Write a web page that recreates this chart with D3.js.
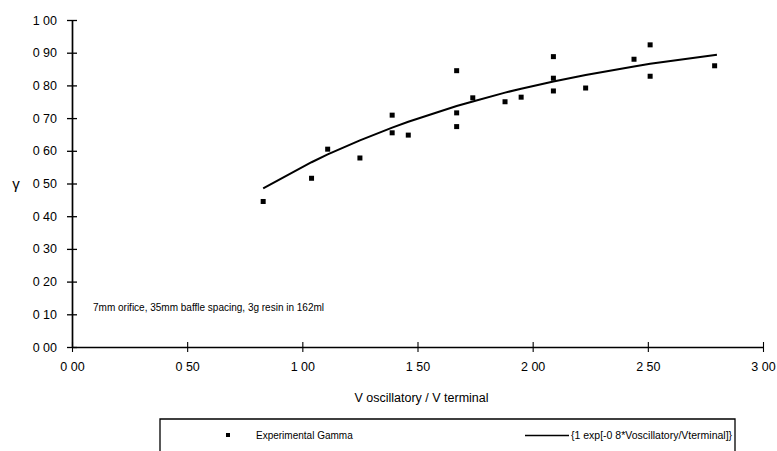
<!DOCTYPE html>
<html>
<head>
<meta charset="utf-8">
<script src="https://cdn.jsdelivr.net/npm/d3@7"></script>
<style>
  html, body { margin: 0; padding: 0; background: #fff; }
  svg { display: block; }
  text { font-family: "Liberation Sans", Arial, Helvetica, sans-serif; fill: #000; }
</style>
</head>
<body>
<svg id="chart" width="777" height="451"></svg>
<script>
const expX = [0.83, 1.04, 1.11, 1.25, 1.39, 1.39, 1.46, 1.67, 1.67, 1.67, 1.74, 1.88, 1.95, 2.09, 2.09, 2.09, 2.23, 2.44, 2.51, 2.51, 2.79];
const expY = [0.445, 0.516, 0.605, 0.578, 0.709, 0.655, 0.648, 0.845, 0.716, 0.674, 0.762, 0.750, 0.764, 0.888, 0.822, 0.783, 0.792, 0.880, 0.924, 0.828, 0.860];
// Model curve {1 - exp(-0.8*Vosc/Vterm)} as drawn (points at data x positions)
const fitX = [0.83, 1.04, 1.11, 1.25, 1.39, 1.46, 1.67, 1.74, 1.88, 1.95, 2.09, 2.23, 2.44, 2.51, 2.80];
const fitY = [0.485, 0.565, 0.589, 0.632, 0.671, 0.689, 0.737, 0.751, 0.778, 0.790, 0.812, 0.832, 0.858, 0.866, 0.894];
// Tick values and labels
const xTicks = [0, 0.5, 1, 1.5, 2, 2.5, 3];
const xTickLabels = ["0 00", "0 50", "1 00", "1 50", "2 00", "2 50", "3 00"];
const yTicks = [0, 0.1, 0.2, 0.3, 0.4, 0.5, 0.6, 0.7, 0.8, 0.9, 1.0];
const yTickLabels = ["0 00", "0 10", "0 20", "0 30", "0 40", "0 50", "0 60", "0 70", "0 80", "0 90", "1 00"];
const xTitle = "V oscillatory / V terminal";
const yTitle = "γ";
const note = "7mm orifice, 35mm baffle spacing, 3g resin in 162ml";
const legendLabels = ["Experimental Gamma", "{1 exp[-0 8*Voscillatory/Vterminal]}"];

const svg = d3.select("#chart");
const x = d3.scaleLinear().domain([0, 3]).range([72, 763]);
const y = d3.scaleLinear().domain([0, 1]).range([347, 20]);

// Y axis
const yAxis = d3.axisLeft(y).tickValues(yTicks)
  .tickFormat((d, i) => yTickLabels[i]).tickSize(0).tickPadding(15);
const gy = svg.append("g").attr("transform", `translate(${x(0)},0)`).call(yAxis);
gy.select(".domain").attr("stroke", "#000").attr("stroke-width", 1.7);
gy.selectAll("text").style("font-size", "12.5px").attr("font-family", null);
gy.selectAll(".tick").append("line").attr("x1", -5).attr("x2", 5)
  .attr("stroke", "#000").attr("stroke-width", 1.3);

// X axis
const xAxis = d3.axisBottom(x).tickValues(xTicks)
  .tickFormat((d, i) => xTickLabels[i]).tickSize(0).tickPadding(15);
const gx = svg.append("g").attr("transform", `translate(0,${y(0)})`).call(xAxis);
gx.select(".domain").attr("stroke", "#000").attr("stroke-width", 1.7);
gx.selectAll("text").style("font-size", "12.5px").attr("font-family", null);
gx.selectAll(".tick").append("line").attr("y1", -5).attr("y2", 5)
  .attr("stroke", "#000").attr("stroke-width", 1.1);

// Titles
svg.append("text").attr("x", 16).attr("y", y(0.5) + 5).attr("text-anchor", "middle")
  .style("font-size", "15px").text(yTitle);
svg.append("text").attr("x", x(1.5) + 4).attr("y", 402).attr("text-anchor", "middle")
  .style("font-size", "12.5px").text(xTitle);
svg.append("text").attr("x", 93).attr("y", 311).style("font-size", "10px").text(note);

// Fit curve
const fitData = fitX.map((v, i) => [v, fitY[i]]);
svg.append("path").datum(fitData)
  .attr("d", d3.line().x(d => x(d[0])).y(d => y(d[1])))
  .attr("fill", "none").attr("stroke", "#000").attr("stroke-width", 2);

// Experimental points
const expData = expX.map((v, i) => [v, expY[i]]);
svg.selectAll("rect.pt").data(expData).enter().append("rect").attr("class", "pt")
  .attr("x", d => x(d[0]) - 2.5).attr("y", d => y(d[1]) - 2.5)
  .attr("width", 5).attr("height", 5).attr("fill", "#000");

// Legend
const lg = svg.append("g");
lg.append("path").attr("d", "M160,455 L160,419 L735,419 L735,455")
  .attr("fill", "none").attr("stroke", "#000").attr("stroke-width", 1.3);
lg.append("rect").attr("x", 226).attr("y", 433).attr("width", 4).attr("height", 4).attr("fill", "#000");
lg.append("text").attr("x", 256).attr("y", 439).style("font-size", "10px").text(legendLabels[0]);
lg.append("line").attr("x1", 525).attr("x2", 569).attr("y1", 435.5).attr("y2", 435.5)
  .attr("stroke", "#000").attr("stroke-width", 1.3);
lg.append("text").attr("x", 571).attr("y", 439).style("font-size", "10.5px").text(legendLabels[1]);
</script>
</body>
</html>
